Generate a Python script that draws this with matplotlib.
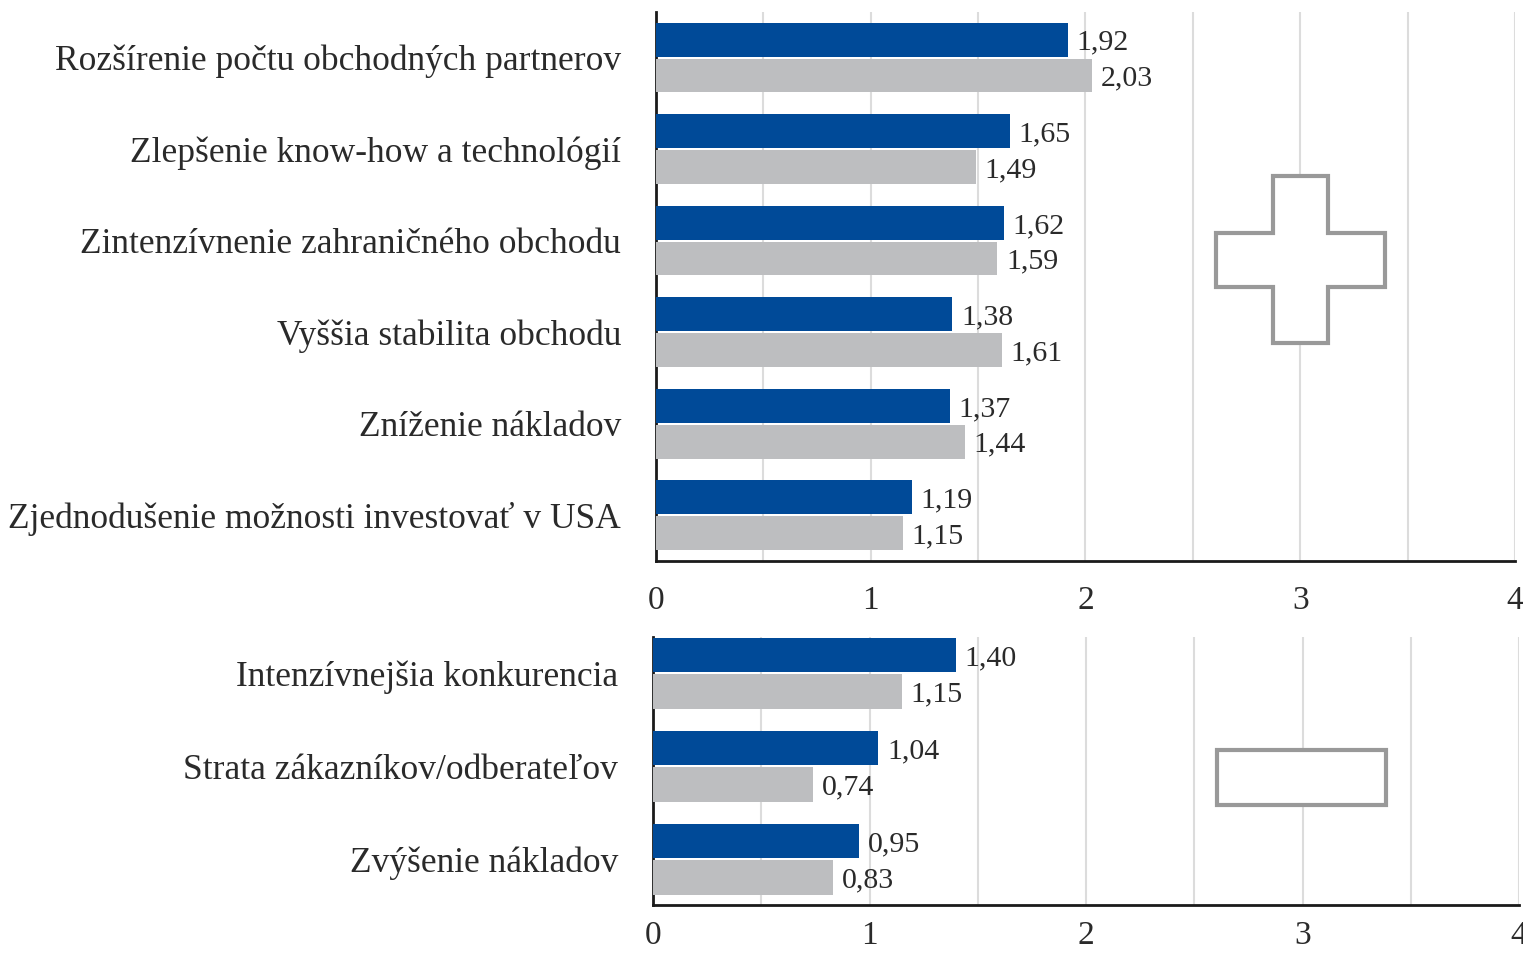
import matplotlib
matplotlib.use("Agg")
import matplotlib.pyplot as plt
from matplotlib.patches import Polygon
import numpy as np

# Data - positive effects (top) and negative effects (bottom)
pos_labels = ['Rozšírenie počtu obchodných partnerov', 'Zlepšenie know-how a technológií',
              'Zintenzívnenie zahraničného obchodu', 'Vyššia stabilita obchodu',
              'Zníženie nákladov', 'Zjednodušenie možnosti investovať v USA']
pos_blue = [1.92, 1.65, 1.62, 1.38, 1.37, 1.19]
pos_gray = [2.03, 1.49, 1.59, 1.61, 1.44, 1.15]

neg_labels = ['Intenzívnejšia konkurencia', 'Strata zákazníkov/odberateľov', 'Zvýšenie nákladov']
neg_blue = [1.40, 1.04, 0.95]
neg_gray = [1.15, 0.74, 0.83]

x_ticks = [0, 1, 2, 3, 4]

BLUE = '#004a98'
GRAY = '#bdbec0'
TXT = '#2a2a2a'
plt.rcParams['font.family'] = ['Liberation Serif', 'DejaVu Serif']

fig = plt.figure(figsize=(15.23, 9.57), dpi=100)
ax1 = fig.add_axes([0.4307, 0.4138, 0.564, 0.5737])
ax2 = fig.add_axes([0.4288, 0.0543, 0.5686, 0.2801])


def fmt(v):
    return f'{v:.2f}'.replace('.', ',')


def draw(ax, labels, blue, gray, ylim, xpad):
    y = np.arange(len(labels))
    h = 0.37
    off = 0.195
    ax.barh(y - off, blue, height=h, color=BLUE, zorder=3)
    ax.barh(y + off, gray, height=h, color=GRAY, zorder=3)
    for yi, b, g in zip(y, blue, gray):
        ax.text(b + 0.04, yi - off, fmt(b), va='center_baseline', ha='left', fontsize=21.5, color=TXT)
        ax.text(g + 0.04, yi + off, fmt(g), va='center_baseline', ha='left', fontsize=21.5, color=TXT)
    ax.set_xlim(0, 4)
    ax.set_ylim(*ylim)
    ax.set_yticks(y)
    ax.set_yticklabels(labels, fontsize=25.5, color=TXT)
    ax.set_xticks(x_ticks)
    ax.set_xticklabels([str(t) for t in x_ticks], fontsize=24, color=TXT)
    ax.set_xticks(np.arange(0, 4.01, 0.5), minor=True)
    ax.tick_params(axis='y', length=0, pad=25)
    ax.tick_params(axis='x', which='both', length=0, pad=xpad)
    ax.grid(axis='x', which='both', color='#dcdcdc', linewidth=1.5, zorder=0)
    ax.set_axisbelow(True)
    for s in ['top', 'right']:
        ax.spines[s].set_visible(False)
    for s in ['left', 'bottom']:
        ax.spines[s].set_linewidth(2)
        ax.spines[s].set_color('#1a1a1a')


draw(ax1, pos_labels, pos_blue, pos_gray, (5.5, -0.5), 18)
draw(ax2, neg_labels, neg_blue, neg_gray, (2.49, -0.39), 11)

# plus sign symbol (axes fraction)
px = [0.718, 0.782, 0.782, 0.849, 0.849, 0.782, 0.782, 0.718, 0.718, 0.652, 0.652, 0.718]
py = [0.701, 0.701, 0.597, 0.597, 0.499, 0.499, 0.397, 0.397, 0.499, 0.499, 0.597, 0.597]
ax1.add_patch(Polygon(list(zip(px, py)), closed=True, transform=ax1.transAxes,
                      facecolor='white', edgecolor='#999999', linewidth=3, zorder=4))

# minus sign symbol
mx = [0.651, 0.846, 0.846, 0.651]
my = [0.578, 0.578, 0.373, 0.373]
ax2.add_patch(Polygon(list(zip(mx, my)), closed=True, transform=ax2.transAxes,
                      facecolor='white', edgecolor='#999999', linewidth=3, zorder=4))

fig.savefig('out.png', dpi=100)
